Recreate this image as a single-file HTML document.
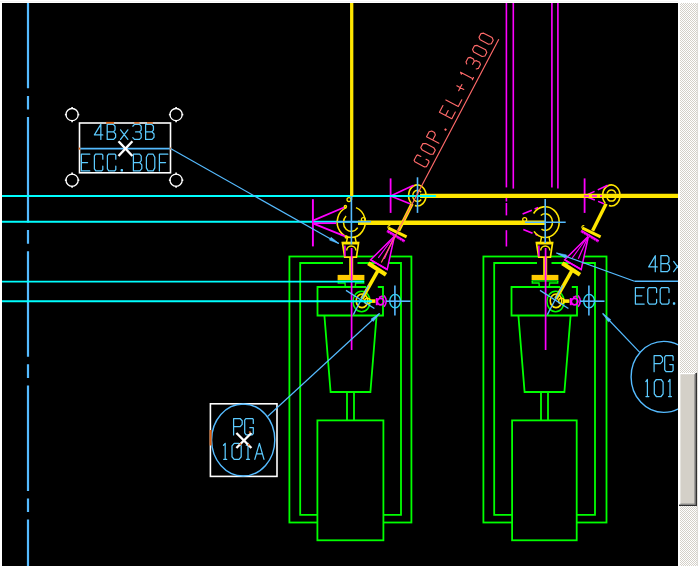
<!DOCTYPE html>
<html><head><meta charset="utf-8"><title>CAD view</title>
<style>
html,body{margin:0;padding:0;background:#fff;overflow:hidden;}
body{width:700px;height:566px;font-family:"Liberation Sans",sans-serif;}
svg{display:block;}
</style></head><body>
<svg width="700" height="566" viewBox="0 0 700 566">
<defs><clipPath id="cl"><rect x="2" y="3" width="676" height="563"/></clipPath><pattern id="chk" x="0" y="0" width="2" height="2" patternUnits="userSpaceOnUse"><rect width="2" height="2" fill="#ffffff"/><rect width="1" height="1" fill="#d4d0c8"/><rect x="1" y="1" width="1" height="1" fill="#d4d0c8"/></pattern></defs>
<rect x="0" y="0" width="700" height="566" fill="#ffffff"/>
<rect x="2" y="3" width="676" height="563" fill="#000000"/>
<g clip-path="url(#cl)">
<line x1="28" y1="-17.2" x2="28" y2="570" stroke="#55bbff" stroke-width="2.2" stroke-dasharray="105.5 7.6 13.6 7.5"/>
<rect x="289.4" y="256.5" width="122" height="266" stroke="#00ff00" stroke-width="1.8" fill="none"/>
<polyline points="343,263 300.2,263 300.2,514.8 401,514.8 401,263 357.5,263" stroke="#00ff00" stroke-width="1.8" fill="none"/>
<polyline points="366,287 317.5,287 317.5,315.5 383,315.5 383,287 377.8,287" stroke="#00ff00" stroke-width="1.8" fill="none"/>
<polyline points="324.4,315.5 330.6,392 370.4,392 376.6,315.5" stroke="#00ff00" stroke-width="1.8" fill="none"/>
<line x1="347" y1="392" x2="347" y2="420.4" stroke="#00ff00" stroke-width="1.8"/>
<line x1="354" y1="392" x2="354" y2="420.4" stroke="#00ff00" stroke-width="1.8"/>
<rect x="317.4" y="420.4" width="66" height="119.9" stroke="#00ff00" stroke-width="1.8" fill="#000"/>
<line x1="337.6" y1="280.9" x2="364.4" y2="280.9" stroke="#00ff00" stroke-width="1.3"/>
<polyline points="338.3,281 338.3,283 345,283 345.3,287" stroke="#00ff00" stroke-width="1.4" fill="none"/>
<polyline points="363.7,281 363.7,283 355.6,283 355.3,287" stroke="#00ff00" stroke-width="1.4" fill="none"/>
<ellipse cx="361.6" cy="301.5" rx="8.6" ry="10.3" stroke="#00ff00" stroke-width="1.5" fill="none"/>
<rect x="337.6" y="274.9" width="26.8" height="5.1" fill="#ffcc00"/>
<line x1="351.2" y1="257" x2="351.2" y2="275.5" stroke="#ffe600" stroke-width="4"/>
<polygon points="342.4,242.6 358.6,242.6 356.4,257.2 344.7,257.2" stroke="#ffe600" stroke-width="1.7" fill="#000"/>
<line x1="342.4" y1="243.2" x2="358.6" y2="243.2" stroke="#ffe600" stroke-width="2.6"/>
<line x1="347.6" y1="236.8" x2="346.4" y2="242.6" stroke="#ffe600" stroke-width="1.5"/>
<line x1="355" y1="236.8" x2="356.2" y2="242.6" stroke="#ffe600" stroke-width="1.5"/>
<path d="M346.7,250.5 A4.6,4.6 0 0 1 355.9,250.5" stroke="#ffe600" stroke-width="1.5" fill="none"/>
<line x1="344.9" y1="245.5" x2="344.9" y2="256.5" stroke="#ff00ff" stroke-width="1.5"/>
<line x1="351.6" y1="248" x2="351.6" y2="350" stroke="#ff00ff" stroke-width="1.7"/>
<ellipse cx="362" cy="300.8" rx="5.8" ry="6.8" stroke="#ffe600" stroke-width="1.6" fill="none"/>
<circle cx="367.4" cy="301" r="2.8" stroke="#ffe600" stroke-width="1.5" fill="none"/>
<line x1="369" y1="301.1" x2="375.5" y2="301.1" stroke="#ffe600" stroke-width="3.6"/>
<rect x="375.8" y="298" width="2" height="7.2" fill="#ff00ff"/>
<circle cx="380.6" cy="301.6" r="3.3" stroke="#ff00ff" stroke-width="1.7" fill="none"/>
<line x1="379" y1="297.5" x2="382.5" y2="296" stroke="#ff00ff" stroke-width="1.5"/>
<path d="M384.1,295.6 Q388.4,301.2 384.1,306.8" stroke="#ff00ff" stroke-width="1.6" fill="none"/>
<ellipse cx="395.1" cy="301.1" rx="5.4" ry="6.7" stroke="#30d8f0" stroke-width="1.4" fill="none"/>
<line x1="394.9" y1="285.5" x2="394.9" y2="315.5" stroke="#55bbff" stroke-width="1.6"/>
<line x1="386" y1="301.2" x2="410.5" y2="301.2" stroke="#55bbff" stroke-width="1.6"/>
<line x1="361.8" y1="299" x2="377.8" y2="270.8" stroke="#ffe600" stroke-width="3.6"/>
<line x1="346" y1="290.4" x2="374.4" y2="308.5" stroke="#55bbff" stroke-width="1.3"/>
<line x1="353.4" y1="314.6" x2="368.5" y2="285.5" stroke="#55bbff" stroke-width="1.3"/>
<line x1="368.3" y1="263.3" x2="386" y2="274.8" stroke="#ffe600" stroke-width="4.2"/>
<polygon points="370.7,259.8 394.5,236 387.2,269.5" stroke="#ff00ff" stroke-width="1.5" fill="#000"/>
<line x1="370.7" y1="259.8" x2="387.2" y2="269.5" stroke="#ff00ff" stroke-width="1.5"/>
<line x1="384.3" y1="258.8" x2="393.5" y2="238" stroke="#ff00ff" stroke-width="1.2"/>
<line x1="378.3" y1="257.9" x2="392.5" y2="238.5" stroke="#ff00ff" stroke-width="1.1"/>
<line x1="387" y1="230.9" x2="404.6" y2="241.3" stroke="#ff00ff" stroke-width="2.6"/>
<line x1="386.6" y1="231.5" x2="404.2" y2="241.9" stroke="#000" stroke-width="0.6" stroke-dasharray="1.2 1.6"/>
<line x1="388.6" y1="228.2" x2="406.6" y2="236.8" stroke="#ffe600" stroke-width="3"/>
<path d="M389.5,228.8 A1.6,1.6 0 1 1 390.3,225.81" stroke="#ffe600" stroke-width="1.2" fill="none"/>
<line x1="412.1" y1="203.8" x2="398.6" y2="230.8" stroke="#ffe600" stroke-width="3.4"/>
<path d="M411.26,203.05 A8.7,10.5 0 1 1 414.9,205.59" stroke="#ffe600" stroke-width="1.6" fill="none"/>
<line x1="390.6" y1="178.4" x2="390.6" y2="212.9" stroke="#ff00ff" stroke-width="1.8"/>
<line x1="390.6" y1="196" x2="413.6" y2="185.3" stroke="#ff00ff" stroke-width="1.5"/>
<line x1="390.6" y1="196" x2="410" y2="203.7" stroke="#ff00ff" stroke-width="1.5"/>
<rect x="483.4" y="256.5" width="123.1" height="266" stroke="#00ff00" stroke-width="1.8" fill="none"/>
<polyline points="537,263 494.2,263 494.2,514.8 595,514.8 595,263 551.5,263" stroke="#00ff00" stroke-width="1.8" fill="none"/>
<polyline points="560,287 511.5,287 511.5,315.5 577,315.5 577,287 571.8,287" stroke="#00ff00" stroke-width="1.8" fill="none"/>
<polyline points="518.4,315.5 524.6,392 564.4,392 570.6,315.5" stroke="#00ff00" stroke-width="1.8" fill="none"/>
<line x1="541" y1="392" x2="541" y2="420.4" stroke="#00ff00" stroke-width="1.8"/>
<line x1="548" y1="392" x2="548" y2="420.4" stroke="#00ff00" stroke-width="1.8"/>
<rect x="512.1" y="420.4" width="64.6" height="119.9" stroke="#00ff00" stroke-width="1.8" fill="#000"/>
<line x1="531.6" y1="280.9" x2="558.4" y2="280.9" stroke="#00ff00" stroke-width="1.3"/>
<polyline points="532.3,281 532.3,283 539,283 539.3,287" stroke="#00ff00" stroke-width="1.4" fill="none"/>
<polyline points="557.7,281 557.7,283 549.6,283 549.3,287" stroke="#00ff00" stroke-width="1.4" fill="none"/>
<ellipse cx="555.6" cy="301.5" rx="8.6" ry="10.3" stroke="#00ff00" stroke-width="1.5" fill="none"/>
<rect x="531.6" y="274.9" width="26.8" height="5.1" fill="#ffcc00"/>
<line x1="545.2" y1="257" x2="545.2" y2="275.5" stroke="#ffe600" stroke-width="4"/>
<polygon points="536.4,242.6 552.6,242.6 550.4,257.2 538.7,257.2" stroke="#ffe600" stroke-width="1.7" fill="#000"/>
<line x1="536.4" y1="243.2" x2="552.6" y2="243.2" stroke="#ffe600" stroke-width="2.6"/>
<line x1="541.6" y1="236.8" x2="540.4" y2="242.6" stroke="#ffe600" stroke-width="1.5"/>
<line x1="549" y1="236.8" x2="550.2" y2="242.6" stroke="#ffe600" stroke-width="1.5"/>
<path d="M540.7,250.5 A4.6,4.6 0 0 1 549.9,250.5" stroke="#ffe600" stroke-width="1.5" fill="none"/>
<line x1="538.9" y1="245.5" x2="538.9" y2="256.5" stroke="#ff00ff" stroke-width="1.5"/>
<line x1="545.6" y1="248" x2="545.6" y2="350" stroke="#ff00ff" stroke-width="1.7"/>
<ellipse cx="556" cy="300.8" rx="5.8" ry="6.8" stroke="#ffe600" stroke-width="1.6" fill="none"/>
<circle cx="561.4" cy="301" r="2.8" stroke="#ffe600" stroke-width="1.5" fill="none"/>
<line x1="563" y1="301.1" x2="569.5" y2="301.1" stroke="#ffe600" stroke-width="3.6"/>
<rect x="569.8" y="298" width="2" height="7.2" fill="#ff00ff"/>
<circle cx="574.6" cy="301.6" r="3.3" stroke="#ff00ff" stroke-width="1.7" fill="none"/>
<line x1="573" y1="297.5" x2="576.5" y2="296" stroke="#ff00ff" stroke-width="1.5"/>
<path d="M578.1,295.6 Q582.4,301.2 578.1,306.8" stroke="#ff00ff" stroke-width="1.6" fill="none"/>
<ellipse cx="589.1" cy="301.1" rx="5.4" ry="6.7" stroke="#30d8f0" stroke-width="1.4" fill="none"/>
<line x1="588.9" y1="285.5" x2="588.9" y2="315.5" stroke="#55bbff" stroke-width="1.6"/>
<line x1="580" y1="301.2" x2="604.5" y2="301.2" stroke="#55bbff" stroke-width="1.6"/>
<line x1="555.8" y1="299" x2="571.8" y2="270.8" stroke="#ffe600" stroke-width="3.6"/>
<line x1="540" y1="290.4" x2="568.4" y2="308.5" stroke="#55bbff" stroke-width="1.3"/>
<line x1="547.4" y1="314.6" x2="562.5" y2="285.5" stroke="#55bbff" stroke-width="1.3"/>
<line x1="562.3" y1="263.3" x2="580" y2="274.8" stroke="#ffe600" stroke-width="4.2"/>
<polygon points="564.7,259.8 588.5,236 581.2,269.5" stroke="#ff00ff" stroke-width="1.5" fill="#000"/>
<line x1="564.7" y1="259.8" x2="581.2" y2="269.5" stroke="#ff00ff" stroke-width="1.5"/>
<line x1="578.3" y1="258.8" x2="587.5" y2="238" stroke="#ff00ff" stroke-width="1.2"/>
<line x1="572.3" y1="257.9" x2="586.5" y2="238.5" stroke="#ff00ff" stroke-width="1.1"/>
<line x1="581" y1="230.9" x2="598.6" y2="241.3" stroke="#ff00ff" stroke-width="2.6"/>
<line x1="580.6" y1="231.5" x2="598.2" y2="241.9" stroke="#000" stroke-width="0.6" stroke-dasharray="1.2 1.6"/>
<line x1="582.6" y1="228.2" x2="600.6" y2="236.8" stroke="#ffe600" stroke-width="3"/>
<path d="M583.5,228.8 A1.6,1.6 0 1 1 584.3,225.81" stroke="#ffe600" stroke-width="1.2" fill="none"/>
<line x1="606.1" y1="203.8" x2="592.6" y2="230.8" stroke="#ffe600" stroke-width="3.4"/>
<path d="M605.26,203.05 A8.7,10.5 0 1 1 608.9,205.59" stroke="#ffe600" stroke-width="1.6" fill="none"/>
<line x1="584.6" y1="178.4" x2="584.6" y2="212.9" stroke="#ff00ff" stroke-width="1.8"/>
<line x1="584.6" y1="196" x2="607.6" y2="185.3" stroke="#ff00ff" stroke-width="1.5" stroke-dasharray="11 3.5"/>
<line x1="584.6" y1="196" x2="604" y2="203.7" stroke="#ff00ff" stroke-width="1.5" stroke-dasharray="11 3.5"/>
<line x1="2" y1="196" x2="436" y2="196" stroke="#00ffff" stroke-width="1.9"/>
<line x1="2" y1="221.8" x2="371" y2="221.8" stroke="#00ffff" stroke-width="1.9"/>
<line x1="2" y1="281.6" x2="364" y2="281.6" stroke="#00ffff" stroke-width="1.9"/>
<line x1="2" y1="301.2" x2="372" y2="301.2" stroke="#00ffff" stroke-width="1.9"/>
<line x1="351.7" y1="3" x2="351.7" y2="196" stroke="#ffe600" stroke-width="3.3"/>
<line x1="351.5" y1="196" x2="351.5" y2="200" stroke="#ffe600" stroke-width="1.5"/>
<circle cx="349" cy="199.6" r="2" stroke="#ffe600" stroke-width="1.3" fill="none"/>
<path d="M355.99,207.63 A14,15.4 0 1 1 346.41,207.63" stroke="#ffe600" stroke-width="1.6" fill="none"/>
<path d="M357.69,227.65 A7.8,8.8 0 1 1 346.08,216.06" stroke="#ffe600" stroke-width="1.5" fill="none"/>
<circle cx="363.4" cy="219.6" r="2" stroke="#ffe600" stroke-width="1.3" fill="none"/>
<line x1="358" y1="222.8" x2="545" y2="222.8" stroke="#ffe600" stroke-width="4.4"/>
<line x1="420" y1="195.9" x2="678" y2="195.9" stroke="#ffe600" stroke-width="4.4"/>
<line x1="351.4" y1="196" x2="351.4" y2="244.4" stroke="#55bbff" stroke-width="1.6"/>
<line x1="312.9" y1="199.2" x2="312.9" y2="246.4" stroke="#ff00ff" stroke-width="1.9"/>
<line x1="312.9" y1="220.6" x2="344.4" y2="207.2" stroke="#ff00ff" stroke-width="1.7"/>
<line x1="312.9" y1="223.4" x2="345.2" y2="236.4" stroke="#ff00ff" stroke-width="1.7"/>
<line x1="312.9" y1="223.2" x2="336.3" y2="223.2" stroke="#ff00ff" stroke-width="1.7"/>
<circle cx="345.4" cy="206.6" r="1.1" stroke="#ffe600" stroke-width="1.4" fill="none"/>
<circle cx="346.3" cy="237" r="1.1" stroke="#ffe600" stroke-width="1.4" fill="none"/>
<path d="M421.18,199.5 A4.8,5.6 0 1 1 421.18,192.3" stroke="#ffe600" stroke-width="1.5" fill="none"/>
<line x1="417.5" y1="177.3" x2="417.5" y2="212.9" stroke="#55bbff" stroke-width="1.6"/>
<line x1="380" y1="196" x2="436" y2="196" stroke="#00ffff" stroke-width="1.9"/>
<line x1="337" y1="221.8" x2="371" y2="221.8" stroke="#55bbff" stroke-width="1.6"/>
<line x1="506.4" y1="3" x2="506.4" y2="187.4" stroke="#ff00ff" stroke-width="1.6"/>
<line x1="513.3" y1="3" x2="513.3" y2="188.6" stroke="#ff00ff" stroke-width="1.6"/>
<line x1="551.9" y1="3" x2="551.9" y2="187.4" stroke="#ff00ff" stroke-width="1.6"/>
<line x1="557.9" y1="3" x2="557.9" y2="188.6" stroke="#ff00ff" stroke-width="1.6"/>
<line x1="506.4" y1="198" x2="506.4" y2="201.5" stroke="#ff00ff" stroke-width="1.6"/>
<line x1="506.4" y1="203" x2="506.4" y2="215.4" stroke="#ff00ff" stroke-width="1.6"/>
<line x1="506.4" y1="230.2" x2="506.4" y2="246.5" stroke="#ff00ff" stroke-width="1.6"/>
<line x1="522.6" y1="214" x2="538.1" y2="207.6" stroke="#ff00ff" stroke-width="1.6" stroke-dasharray="10 3"/>
<line x1="523.3" y1="229.5" x2="537.4" y2="235.2" stroke="#ff00ff" stroke-width="1.6" stroke-dasharray="10 3"/>
<path d="M533.59,213.49 A14,15.4 0 1 1 534.02,231.37" stroke="#ffe600" stroke-width="1.6" fill="none"/>
<path d="M540.81,215.47 A7.3,8.3 0 1 1 541.44,229.21" stroke="#ffe600" stroke-width="1.5" fill="none"/>
<circle cx="524.7" cy="219.6" r="2" stroke="#ffe600" stroke-width="1.3" fill="none"/>
<line x1="545.2" y1="199" x2="545.2" y2="243" stroke="#55bbff" stroke-width="1.6"/>
<line x1="525" y1="222.2" x2="565.7" y2="222.2" stroke="#55bbff" stroke-width="1.6"/>
<path d="M606.98,193.58 A4.7,5.6 0 0 1 615.82,193.58" stroke="#ffe600" stroke-width="1.5" fill="none"/>
<path d="M615.82,197.42 A4.7,5.6 0 0 1 606.98,197.42" stroke="#ffe600" stroke-width="1.5" fill="none"/>
<line x1="584" y1="196" x2="602" y2="196" stroke="#ff00ff" stroke-width="1.6" stroke-dasharray="5 3"/>
<rect x="79.5" y="123" width="91" height="49.8" stroke="#ffffff" stroke-width="1.6" fill="none"/>
<line x1="80" y1="148.6" x2="170" y2="148.6" stroke="#55bbff" stroke-width="1.6"/>
<line x1="106.2" y1="122.9" x2="113.9" y2="122.9" stroke="#e06010" stroke-width="2"/>
<line x1="134.3" y1="123" x2="139.5" y2="123" stroke="#e06010" stroke-width="1.6"/>
<line x1="147" y1="123" x2="152.8" y2="123" stroke="#e06010" stroke-width="1.6"/>
<line x1="79.5" y1="147.6" x2="79.5" y2="149.6" stroke="#e06010" stroke-width="1.6"/>
<line x1="170.5" y1="147.6" x2="170.5" y2="149.6" stroke="#e06010" stroke-width="1.6"/>
<circle cx="72.1" cy="114.6" r="6.1" stroke="#ffffff" stroke-width="1.3" fill="none"/>
<line x1="72.1" y1="107" x2="72.1" y2="109.1" stroke="#ffffff" stroke-width="1.6"/>
<line x1="72.1" y1="122.2" x2="72.1" y2="120.1" stroke="#ffffff" stroke-width="1.6"/>
<line x1="64.9" y1="114.6" x2="66.6" y2="114.6" stroke="#ffffff" stroke-width="1.6"/>
<line x1="79.3" y1="114.6" x2="77.6" y2="114.6" stroke="#ffffff" stroke-width="1.6"/>
<circle cx="176.1" cy="114.6" r="6.1" stroke="#ffffff" stroke-width="1.3" fill="none"/>
<line x1="176.1" y1="107" x2="176.1" y2="109.1" stroke="#ffffff" stroke-width="1.6"/>
<line x1="176.1" y1="122.2" x2="176.1" y2="120.1" stroke="#ffffff" stroke-width="1.6"/>
<line x1="168.9" y1="114.6" x2="170.6" y2="114.6" stroke="#ffffff" stroke-width="1.6"/>
<line x1="183.3" y1="114.6" x2="181.6" y2="114.6" stroke="#ffffff" stroke-width="1.6"/>
<circle cx="72.1" cy="180.2" r="6.1" stroke="#ffffff" stroke-width="1.3" fill="none"/>
<line x1="72.1" y1="172.6" x2="72.1" y2="174.7" stroke="#ffffff" stroke-width="1.6"/>
<line x1="72.1" y1="187.8" x2="72.1" y2="185.7" stroke="#ffffff" stroke-width="1.6"/>
<line x1="64.9" y1="180.2" x2="66.6" y2="180.2" stroke="#ffffff" stroke-width="1.6"/>
<line x1="79.3" y1="180.2" x2="77.6" y2="180.2" stroke="#ffffff" stroke-width="1.6"/>
<circle cx="176.1" cy="180.2" r="6.1" stroke="#ffffff" stroke-width="1.3" fill="none"/>
<line x1="176.1" y1="172.6" x2="176.1" y2="174.7" stroke="#ffffff" stroke-width="1.6"/>
<line x1="176.1" y1="187.8" x2="176.1" y2="185.7" stroke="#ffffff" stroke-width="1.6"/>
<line x1="168.9" y1="180.2" x2="170.6" y2="180.2" stroke="#ffffff" stroke-width="1.6"/>
<line x1="183.3" y1="180.2" x2="181.6" y2="180.2" stroke="#ffffff" stroke-width="1.6"/>
<path d="M100.84,139.4 L100.84,124.4 L94.4,134.9 L102.8,134.9 M107.2,131.9 L113.64,131.9 L115.6,134 L115.6,137.3 L113.64,139.4 L107.2,139.4 L107.2,124.4 L113.36,124.4 L115.04,126.2 L115.04,130.1 L113.36,131.9 M120.56,129.8 L127.84,139.4 M127.84,129.8 L120.56,139.4 M132.8,126.2 L134.48,124.4 L139.52,124.4 L141.2,126.2 L141.2,130.1 L139.52,131.9 L135.6,131.9 M139.52,131.9 L141.2,133.7 L141.2,137.6 L139.52,139.4 L134.48,139.4 L132.8,137.6 M145.6,131.9 L152.04,131.9 L154,134 L154,137.3 L152.04,139.4 L145.6,139.4 L145.6,124.4 L151.76,124.4 L153.44,126.2 L153.44,130.1 L151.76,131.9" stroke="#5ccbff" stroke-width="1.25" fill="none" stroke-linecap="round" stroke-linejoin="round"/>
<path d="M89.8,154.2 L81.4,154.2 L81.4,170.9 L89.8,170.9 M81.4,162.55 L87.56,162.55 M102.8,159.21 L102.8,155.2 L101.96,154.2 L95.52,154.2 L94.4,155.87 L94.4,168.9 L95.8,170.9 L101.68,170.9 L102.8,169.56 L102.8,166.22 M115.8,159.21 L115.8,155.2 L114.96,154.2 L108.52,154.2 L107.4,155.87 L107.4,168.9 L108.8,170.9 L114.68,170.9 L115.8,169.56 L115.8,166.22 M121.24,169.73 L122.36,169.73 L122.36,170.9 L121.24,170.9 Z M133.4,162.55 L139.84,162.55 L141.8,164.89 L141.8,168.56 L139.84,170.9 L133.4,170.9 L133.4,154.2 L139.56,154.2 L141.24,156.2 L141.24,160.55 L139.56,162.55 M148.08,154.2 L153.12,154.2 L154.8,157.21 L154.8,167.89 L153.12,170.9 L148.08,170.9 L146.4,167.89 L146.4,157.21 Z M167.8,154.2 L159.4,154.2 L159.4,170.9 M159.4,162.55 L165.56,162.55" stroke="#5ccbff" stroke-width="1.25" fill="none" stroke-linecap="round" stroke-linejoin="round"/>
<line x1="118.5" y1="141.2" x2="132.4" y2="156" stroke="#ffffff" stroke-width="2.4"/>
<line x1="132.4" y1="141.2" x2="118.5" y2="156" stroke="#ffffff" stroke-width="2.4"/>
<line x1="170.5" y1="148.6" x2="338.7" y2="243.5" stroke="#55bbff" stroke-width="1.2"/>
<polygon points="339,243.6 329.5,240.08 331.07,237.3" fill="#55bbff" stroke="#55bbff" stroke-width="0.6"/>
<rect x="210.4" y="403.8" width="66.6" height="72.6" stroke="#ffffff" stroke-width="1.6" fill="none"/>
<ellipse cx="243.2" cy="440" rx="31.6" ry="36" stroke="#55bbff" stroke-width="1.4" fill="none"/>
<path d="M233.6,434.9 L233.6,418.5 L240.05,418.5 L242.2,420.8 L242.2,424.4 L240.05,426.7 L233.6,426.7 M253.3,423.42 L253.3,419.48 L252.44,418.5 L245.85,418.5 L244.7,420.14 L244.7,432.93 L246.13,434.9 L252.15,434.9 L253.3,433.59 L253.3,427.68 L249.86,427.68" stroke="#5ccbff" stroke-width="1.25" fill="none" stroke-linecap="round" stroke-linejoin="round"/>
<path d="M223.51,445.22 L225.2,443.3 L225.2,459.3 M223.67,459.3 L226.73,459.3 M234.15,443.3 L239.05,443.3 L241.2,445.86 L241.2,456.74 L239.05,459.3 L234.15,459.3 L232,456.74 L232,445.86 Z M246.31,445.22 L248,443.3 L248,459.3 M246.47,459.3 L249.53,459.3 M254.8,459.3 L259.4,443.3 L264,459.3 M256.49,453.86 L262.31,453.86" stroke="#5ccbff" stroke-width="1.25" fill="none" stroke-linecap="round" stroke-linejoin="round"/>
<line x1="236.4" y1="433" x2="251.4" y2="448" stroke="#ffffff" stroke-width="2.4"/>
<line x1="251.4" y1="433" x2="236.4" y2="448" stroke="#ffffff" stroke-width="2.4"/>
<line x1="210.6" y1="430" x2="210.6" y2="445.5" stroke="#e06010" stroke-width="2"/>
<line x1="249" y1="432.5" x2="250.5" y2="431.5" stroke="#e06010" stroke-width="1.5"/>
<line x1="239.8" y1="445" x2="241" y2="443.5" stroke="#e06010" stroke-width="1.5"/>
<line x1="248.2" y1="444" x2="249.4" y2="445.5" stroke="#e06010" stroke-width="1.5"/>
<line x1="267" y1="417" x2="379.5" y2="313.5" stroke="#55bbff" stroke-width="1.2"/>
<polygon points="379.5,313.5 373.22,321.45 371.06,319.09" fill="#55bbff" stroke="#55bbff" stroke-width="0.6"/>
<path d="M655.29,271.7 L655.29,255.7 L648.7,266.9 L657.3,266.9 M660.9,263.7 L667.49,263.7 L669.5,265.94 L669.5,269.46 L667.49,271.7 L660.9,271.7 L660.9,255.7 L667.21,255.7 L668.93,257.62 L668.93,261.78 L667.21,263.7 M673.67,261.46 L681.13,271.7 M681.13,261.46 L673.67,271.7" stroke="#5ccbff" stroke-width="1.25" fill="none" stroke-linecap="round" stroke-linejoin="round"/>
<path d="M644.2,287.6 L635.4,287.6 L635.4,304.1 L644.2,304.1 M635.4,295.85 L641.85,295.85 M656.6,292.55 L656.6,288.59 L655.72,287.6 L648.97,287.6 L647.8,289.25 L647.8,302.12 L649.27,304.1 L655.43,304.1 L656.6,302.78 L656.6,299.48 M669,292.55 L669,288.59 L668.12,287.6 L661.37,287.6 L660.2,289.25 L660.2,302.12 L661.67,304.1 L667.83,304.1 L669,302.78 L669,299.48 M673.48,302.95 L674.65,302.95 L674.65,304.1 L673.48,304.1 Z" stroke="#5ccbff" stroke-width="1.25" fill="none" stroke-linecap="round" stroke-linejoin="round"/>
<line x1="634.5" y1="281.3" x2="678" y2="281.3" stroke="#55bbff" stroke-width="1.5"/>
<line x1="634.5" y1="281.3" x2="556.5" y2="253" stroke="#55bbff" stroke-width="1.2"/>
<polygon points="556.5,253 566.45,254.91 565.35,257.91" fill="#55bbff" stroke="#55bbff" stroke-width="0.6"/>
<ellipse cx="663.8" cy="376.9" rx="32.7" ry="35.5" stroke="#55bbff" stroke-width="1.4" fill="none"/>
<path d="M654.1,371.7 L654.1,355.5 L660.4,355.5 L662.5,357.77 L662.5,361.33 L660.4,363.6 L654.1,363.6 M673.1,360.36 L673.1,356.47 L672.26,355.5 L665.82,355.5 L664.7,357.12 L664.7,369.76 L666.1,371.7 L671.98,371.7 L673.1,370.4 L673.1,364.57 L669.74,364.57" stroke="#5ccbff" stroke-width="1.25" fill="none" stroke-linecap="round" stroke-linejoin="round"/>
<path d="M645.79,381.54 L647.4,379.5 L647.4,396.5 M645.93,396.5 L648.87,396.5 M656.35,379.5 L661.05,379.5 L663.1,382.22 L663.1,393.78 L661.05,396.5 L656.35,396.5 L654.3,393.78 L654.3,382.22 Z M668.39,381.54 L670,379.5 L670,396.5 M668.53,396.5 L671.47,396.5 M679.69,381.54 L681.3,379.5 L681.3,396.5 M679.83,396.5 L682.77,396.5" stroke="#5ccbff" stroke-width="1.25" fill="none" stroke-linecap="round" stroke-linejoin="round"/>
<line x1="640" y1="352.7" x2="602.7" y2="313.5" stroke="#55bbff" stroke-width="1.2"/>
<polygon points="602.7,313.5 610.75,319.64 608.43,321.85" fill="#55bbff" stroke="#55bbff" stroke-width="0.6"/>
<line x1="498.8" y1="39.3" x2="381.3" y2="262.6" stroke="#ff6a6a" stroke-width="1.15"/>
<path d="M433.5,157.9 L433.5,154.54 L432.75,153.7 L427,153.7 L426,155.1 L426,166.02 L427.25,167.7 L432.5,167.7 L433.5,166.58 L433.5,163.78 M441.34,153.7 L445.84,153.7 L447.34,156.22 L447.34,165.18 L445.84,167.7 L441.34,167.7 L439.84,165.18 L439.84,156.22 Z M453.68,167.7 L453.68,153.7 L459.31,153.7 L461.18,155.66 L461.18,158.74 L459.31,160.7 L453.68,160.7 M468.27,166.72 L469.27,166.72 L469.27,167.7 L468.27,167.7 Z M488.86,153.7 L481.36,153.7 L481.36,167.7 L488.86,167.7 M481.36,160.7 L486.86,160.7 M495.2,153.7 L495.2,167.7 L502.7,167.7 M512.79,156.78 L512.79,164.62 M509.29,160.7 L516.29,160.7 M525.25,155.38 L526.63,153.7 L526.63,167.7 M525.38,167.7 L527.88,167.7 M536.72,155.38 L538.22,153.7 L542.72,153.7 L544.22,155.38 L544.22,159.02 L542.72,160.7 L539.22,160.7 M542.72,160.7 L544.22,162.38 L544.22,166.02 L542.72,167.7 L538.22,167.7 L536.72,166.02 M552.31,153.7 L556.31,153.7 L558.06,155.94 L558.06,165.46 L556.31,167.7 L552.31,167.7 L550.56,165.46 L550.56,155.94 Z M566.15,153.7 L570.15,153.7 L571.9,155.94 L571.9,165.46 L570.15,167.7 L566.15,167.7 L564.4,165.46 L564.4,155.94 Z" stroke="#ff6a6a" stroke-width="1.15" fill="none" stroke-linecap="round" stroke-linejoin="round" transform="rotate(-62.2 426 167.7)"/>
</g>
<rect x="678" y="3" width="2" height="563" fill="#ffffff"/>
<rect x="680" y="3" width="17.5" height="563" fill="url(#chk)"/>
<rect x="697.5" y="0" width="2.5" height="566" fill="#ffffff"/>
<rect x="696.8" y="3" width="1" height="563" fill="#d8d5cf"/>
<rect x="0" y="1" width="678" height="0.8" fill="#f0f0f0"/>
<rect x="679" y="373" width="18" height="133" fill="#d4d0c8"/>
<rect x="679" y="373" width="18" height="1.2" fill="#ffffff"/>
<rect x="679" y="373" width="1.4" height="133" fill="#ffffff"/>
<rect x="695.4" y="373" width="1.6" height="133" fill="#303030"/>
<rect x="679" y="504.6" width="18" height="1.4" fill="#303030"/>
<rect x="694.4" y="374.2" width="1" height="130.4" fill="#808080"/>
<rect x="680.4" y="503.6" width="15" height="1" fill="#808080"/>
</svg>
</body></html>
